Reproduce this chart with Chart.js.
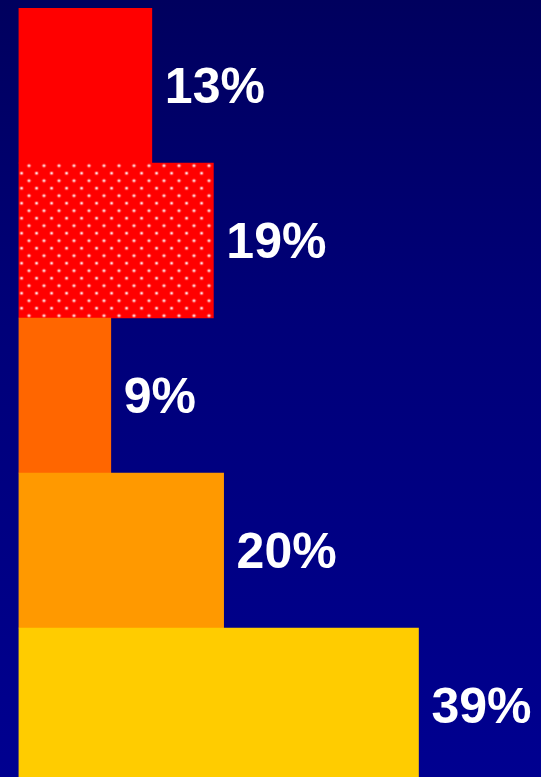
<!DOCTYPE html>
<html>
<head>
<meta charset="utf-8">
<script src="https://cdn.jsdelivr.net/npm/chart.js@4/dist/chart.umd.min.js"></script>
<style>
  html, body { margin: 0; padding: 0; overflow: hidden; }
  #wrap {
    width: 541px; height: 777px; overflow: hidden; position: relative;
    background: linear-gradient(to bottom, #00005E 0%, #000078 40%, #000090 100%);
  }
  canvas { display: block; }
</style>
</head>
<body>
<div id="wrap"><canvas id="c" width="541" height="790"></canvas></div>
<script>
const categories = ['Segment 1', 'Segment 2', 'Segment 3', 'Segment 4', 'Segment 5'];
const shares = [13, 19, 9, 20, 39];
const valueLabels = ['13%', '19%', '9%', '20%', '39%'];
const barColors = ['#FF0000', 'dots', '#FF6600', '#FF9900', '#FFCC00'];

function makeDotPattern(ctx) {
  const t = document.createElement('canvas');
  t.width = 15; t.height = 15;
  const g = t.getContext('2d');
  g.fillStyle = '#FF0000';
  g.fillRect(0, 0, 15, 15);
  [[3.5, 3.5], [11, 11]].forEach(([x, y]) => {
    g.fillStyle = 'rgba(255,255,255,0.35)';
    g.beginPath(); g.arc(x, y, 2, 0, Math.PI * 2); g.fill();
    g.fillStyle = '#FFFFFF';
    g.beginPath(); g.arc(x, y, 1.1, 0, Math.PI * 2); g.fill();
  });
  const p = ctx.createPattern(t, 'repeat');
  if (p.setTransform) p.setTransform(new DOMMatrix().translate(25.5, 162.2));
  return p;
}

const canvas = document.getElementById('c');
const ctx = canvas.getContext('2d');
const pattern = makeDotPattern(ctx);
const bg = barColors.map(c => c === 'dots' ? pattern : c);

const labelPlugin = {
  id: 'valueLabels',
  afterDatasetsDraw(chart) {
    const c = chart.ctx;
    const meta = chart.getDatasetMeta(0);
    c.save();
    c.fillStyle = '#FFFFFF';
    c.font = 'bold 50px "Liberation Sans", Arial, sans-serif';
    c.textAlign = 'left';
    c.textBaseline = 'middle';
    meta.data.forEach((bar, i) => {
      c.fillText(valueLabels[i], bar.x + 13, bar.y + 4);
    });
    c.restore();
  }
};

new Chart(ctx, {
  type: 'bar',
  data: {
    labels: categories,
    datasets: [{
      data: shares,
      backgroundColor: bg,
      borderWidth: 0,
      categoryPercentage: 1.0,
      barPercentage: 1.0
    }]
  },
  options: {
    indexAxis: 'y',
    responsive: false,
    devicePixelRatio: 1,
    animation: false,
    layout: { padding: { left: 18.5, right: 9.7, top: 8, bottom: 7 } },
    plugins: { legend: { display: false }, tooltip: { enabled: false } },
    scales: {
      x: { display: false, min: 0, max: 50 },
      y: { display: false }
    }
  },
  plugins: [labelPlugin]
});
</script>
</body>
</html>
